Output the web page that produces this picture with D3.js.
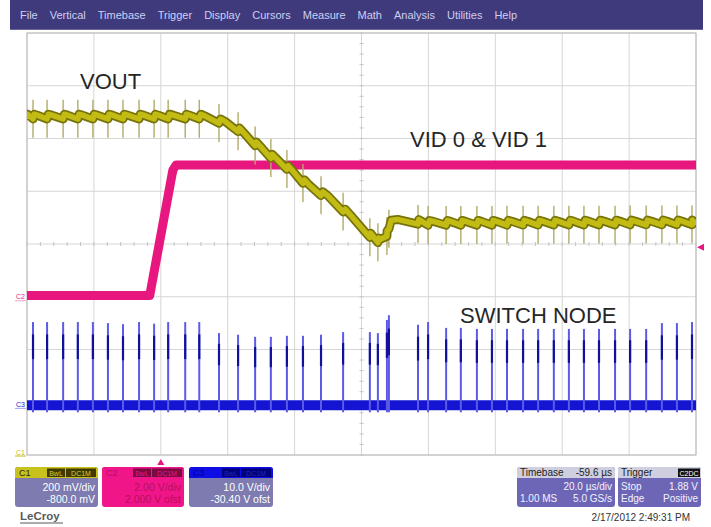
<!DOCTYPE html>
<html>
<head>
<meta charset="utf-8">
<script src="https://cdn.jsdelivr.net/npm/d3@7"></script>
<style>
body { margin: 0; background: #fff; }
svg { display: block; font-family: "Liberation Sans", Arial, sans-serif; }
</style>
</head>
<body>
<svg id="scope" width="711" height="527"></svg>
<script>

var menuItems = ["File", "Vertical", "Timebase", "Trigger", "Display", "Cursors", "Measure", "Math", "Analysis", "Utilities", "Help"];

var timeDomain = [-40, 160];            // us, 20 us/div, trigger 2 div from the left
var channelNames = ["C1", "C2", "C3"];
var voltsPerDiv = [0.2, 2, 10];
var channelOffset = [-0.8, -2, -30.4];
var triggerLevel = 1.88;                // V on C2

// switching events (us) and switch-node peak voltage (V)
var switchTimes = [-38.2, -34.0, -29.2, -24.8, -20.3, -15.8, -11.3, -6.5, -2.0, 2.2, 7.3, 11.5,
	17.4, 23.1, 28.2, 32.9, 37.7, 42.5, 47.9, 54.5, 62.5, 64.9, 67.6, 68.2,
	76.9, 79.9, 85.3, 89.7, 94.5, 99.0, 103.5, 108.3, 112.8, 117.5, 122.0, 126.5,
	131.0, 135.8, 140.3, 145.1, 149.8, 154.3, 158.8];
var switchPeaks = [15.6, 15.6, 15.6, 15.6, 15.6, 15.4, 15.2, 15.6, 15.3, 15.6, 15.6, 15.6,
	13.5, 13.2, 12.8, 12.8, 13.0, 13.0, 13.2, 13.7, 13.7, 13.5, 16.0, 16.9,
	15.1, 15.6, 14.5, 14.5, 14.3, 14.3, 14.3, 14.3, 14.3, 14.3, 14.3, 14.3,
	14.3, 14.3, 14.3, 14.3, 15.4, 15.4, 15.6];
var switchBase = -0.15;                 // V, switch node low level
var switchUndershoot = -1.5;            // V

// VOUT mean level [us, V]
var voutTrend = [[-40, 1.283], [12, 1.283], [16, 1.272], [21.6, 1.251], [31.7, 1.145], [37.7, 1.092],
	[44.6, 1.016], [51.5, 0.967], [58.7, 0.880], [61.6, 0.842], [64.6, 0.815], [67, 0.810],
	[68.5, 0.880], [72.4, 0.893], [79, 0.880], [160, 0.882]];
// ripple between two switching events: [fraction of period, fraction of amplitude]
var rippleShape = [[0, -1], [0.08, 1], [0.3, 0.6], [1, -1]];
var rippleAmp = 0.009;                  // V
var voutGlitch = [0.064, -0.08];        // V above / below the mean at each switching edge

// VID logic level on C2 [us, V]
var vidTrace = [[-40, 0.05], [-3.3, 0.05], [-2.8, 0.4], [3.6, 4.8], [4.6, 5.0], [160, 5.0]];

var labelTexts = ["VOUT", "VID 0 & VID 1", "SWITCH NODE"];
var channelTags = ["BwL", "DC1M"];
var channelRows = [["200 mV/div", "-800.0 mV"], ["2.00 V/div", "2.000 V ofst"], ["10.0 V/div", "-30.40 V ofst"]];
var timebaseRows = [["Timebase", "-59.6 \u00b5s"], ["", "20.0 \u00b5s/div"], ["1.00 MS", "5.0 GS/s"]];
var triggerRows = [["Trigger", ""], ["Stop", "1.88 V"], ["Edge", "Positive"]];
var stampText = "2/17/2012 2:49:31 PM";


// ---- drawing ----
var GRID = {left: 27, right: 696, top: 33, bottom: 455};
var COLORS = {
	c1: "#c2bb14", c1Edge: "#77730a", c1Glitch: "#b0ac6a",
	c2: "#e8177f",
	c3: "#1414d2", c3Spike: "#5b5be6", c3Dark: "#10109a",
	grid: "#d6d6d6", frame: "#b9b9b9",
	menu: "#3e3a7c", menuText: "#cfcff3",
	body: "#7d7bb0", tbBody: "#6d66b6"
};

var svg = d3.select("#scope");

var x = d3.scaleLinear().domain(timeDomain).range([GRID.left, GRID.right]);
var yDiv = d3.scaleLinear().domain([-4, 4]).range([GRID.bottom, GRID.top]);

function chY(ch, v) {
	return yDiv((v + channelOffset[ch]) / voltsPerDiv[ch]);
}

function chLine(ch) {
	return d3.line().x(function(d) { return x(d[0]); }).y(function(d) { return chY(ch, d[1]); });
}

// menu bar
svg.append("rect").attr("x", 10).attr("y", 0).attr("width", 693).attr("height", 30).attr("fill", COLORS.menu);
svg.append("rect").attr("x", 10).attr("y", 29).attr("width", 693).attr("height", 1).attr("fill", "#6a6698");

var menuX = 20;
menuItems.forEach(function(name) {
	var t = svg.append("text").attr("x", menuX).attr("y", 19)
		.attr("font-size", 11).attr("fill", COLORS.menuText).text(name);
	menuX += t.node().getComputedTextLength() + 12;
});

// graticule
var grid = svg.append("g");
grid.selectAll("line.v").data(d3.range(timeDomain[0], timeDomain[1] + 1, 20)).enter().append("line")
	.attr("x1", function(d) { return x(d); }).attr("x2", function(d) { return x(d); })
	.attr("y1", GRID.top).attr("y2", GRID.bottom)
	.attr("stroke", COLORS.grid).attr("stroke-width", 1);
grid.selectAll("line.h").data(d3.range(-4, 5)).enter().append("line")
	.attr("y1", function(d) { return yDiv(d); }).attr("y2", function(d) { return yDiv(d); })
	.attr("x1", GRID.left).attr("x2", GRID.right)
	.attr("stroke", COLORS.grid).attr("stroke-width", 1);
grid.append("rect").attr("x", GRID.left).attr("y", GRID.top)
	.attr("width", GRID.right - GRID.left).attr("height", GRID.bottom - GRID.top)
	.attr("fill", "none").attr("stroke", COLORS.frame);

// minor ticks on the centre axes
var midT = (timeDomain[0] + timeDomain[1]) / 2;
grid.selectAll("line.mx").data(d3.range(timeDomain[0], timeDomain[1] + 0.01, 4)).enter().append("line")
	.attr("x1", function(d) { return x(d); }).attr("x2", function(d) { return x(d); })
	.attr("y1", yDiv(0) - 2).attr("y2", yDiv(0) + 2)
	.attr("stroke", "#c4c4c4");
grid.selectAll("line.my").data(d3.range(-4, 4.01, 0.2)).enter().append("line")
	.attr("y1", function(d) { return yDiv(d); }).attr("y2", function(d) { return yDiv(d); })
	.attr("x1", x(midT) - 2).attr("x2", x(midT) + 2)
	.attr("stroke", "#c4c4c4");

svg.append("clipPath").attr("id", "screen").append("rect")
	.attr("x", GRID.left).attr("y", GRID.top)
	.attr("width", GRID.right - GRID.left).attr("height", GRID.bottom - GRID.top);
var traces = svg.append("g").attr("clip-path", "url(#screen)");

// C3 switch node
traces.append("path")
	.attr("d", chLine(2)([[timeDomain[0], switchBase], [timeDomain[1], switchBase]]))
	.attr("stroke", COLORS.c3).attr("stroke-width", 10).attr("fill", "none");
var spikes = traces.selectAll("g.spike").data(switchTimes).enter().append("g");
spikes.append("line")
	.attr("x1", function(d) { return x(d); }).attr("x2", function(d) { return x(d); })
	.attr("y1", chY(2, switchUndershoot))
	.attr("y2", function(d, i) { return chY(2, switchPeaks[i]); })
	.attr("stroke", COLORS.c3Spike).attr("stroke-width", 2);
spikes.append("line")
	.attr("x1", function(d) { return x(d); }).attr("x2", function(d) { return x(d); })
	.attr("y1", function(d, i) { return chY(2, switchPeaks[i] * 0.55); })
	.attr("y2", function(d, i) { return chY(2, switchPeaks[i] * 0.85); })
	.attr("stroke", COLORS.c3Dark).attr("stroke-width", 2.2);

// C2 VID
traces.append("path")
	.attr("d", chLine(1)(vidTrace))
	.attr("stroke", COLORS.c2).attr("stroke-width", 9).attr("fill", "none")
	.attr("stroke-linejoin", "round");

// C1 VOUT
var trend = d3.scaleLinear().domain(voutTrend.map(function(d) { return d[0]; }))
	.range(voutTrend.map(function(d) { return d[1]; }));
var edges = [timeDomain[0]].concat(switchTimes, [timeDomain[1]]);
var voutPts = [];
for (var k = 0; k < edges.length - 1; k++) {
	var t0 = edges[k], t1 = edges[k + 1];
	rippleShape.forEach(function(p) {
		var t = t0 + p[0] * (t1 - t0);
		voutPts.push([t, trend(t) + p[1] * rippleAmp]);
	});
}
traces.selectAll("line.glitch").data(switchTimes).enter().append("line")
	.attr("x1", function(d) { return x(d); }).attr("x2", function(d) { return x(d); })
	.attr("y1", function(d) { return chY(0, trend(d) + voutGlitch[0]); })
	.attr("y2", function(d) { return chY(0, trend(d) + voutGlitch[1]); })
	.attr("stroke", COLORS.c1Glitch).attr("stroke-width", 1.4);
traces.append("path").attr("d", chLine(0)(voutPts))
	.attr("stroke", COLORS.c1Edge).attr("stroke-width", 9).attr("fill", "none").attr("stroke-linejoin", "round");
traces.append("path").attr("d", chLine(0)(voutPts))
	.attr("stroke", COLORS.c1).attr("stroke-width", 5.5).attr("fill", "none").attr("stroke-linejoin", "round");

// ground markers at the left edge
var markerColors = [COLORS.c1, COLORS.c2, COLORS.c3];
channelNames.forEach(function(name, ch) {
	var gy = Math.min(chY(ch, 0), GRID.bottom - 3);
	svg.append("text").attr("x", 16).attr("y", gy + 2.5).attr("font-size", 7)
		.attr("fill", markerColors[ch]).text(name);
	svg.append("line").attr("x1", 15).attr("x2", 26).attr("y1", gy + 4).attr("y2", gy + 4)
		.attr("stroke", markerColors[ch]).attr("stroke-width", 1).attr("opacity", ch === 0 ? 1 : 0.4);
});

// trigger markers
var tx = x(0), ty = chY(1, triggerLevel);
svg.append("path").attr("d", "M" + (tx - 3.5) + " 465 L" + (tx + 3.5) + " 465 L" + tx + " 459 Z").attr("fill", COLORS.c2);
svg.append("path").attr("d", "M697 " + ty + " L704 " + (ty - 3.5) + " L704 " + (ty + 3.5) + " Z").attr("fill", COLORS.c2);

// annotations
var notes = [[80, 89], [410, 147], [460, 323]];
labelTexts.forEach(function(txt, i) {
	svg.append("text").attr("x", notes[i][0]).attr("y", notes[i][1])
		.attr("font-size", 22).attr("fill", "#262626").text(txt);
});

// descriptor boxes
function box(x0, w, head, body) {
	var g = svg.append("g");
	g.append("rect").attr("x", x0).attr("y", 467).attr("width", w).attr("height", 40).attr("rx", 3).attr("fill", body);
	g.append("rect").attr("x", x0).attr("y", 467).attr("width", w).attr("height", 11).attr("rx", 3).attr("fill", head);
	g.append("rect").attr("x", x0).attr("y", 474).attr("width", w).attr("height", 4).attr("fill", head);
	return g;
}
function txt(g, x0, y0, s, anchor, size, fill) {
	g.append("text").attr("x", x0).attr("y", y0).attr("text-anchor", anchor)
		.attr("font-size", size).attr("fill", fill).text(s);
}

var chBoxes = [
	{x: 15, w: 83, head: "#c9c21c", body: COLORS.body, name: "#2a2a00", tag: "#3e3a00", tagText: "#d8cf3a", text: "#ffffff"},
	{x: 102, w: 82, head: "#f0168a", body: "#f0168a", name: "#b50f62", tag: "#7a0a42", tagText: "#e8168a", text: "#b8105a"},
	{x: 189, w: 84, head: "#0d0de4", body: COLORS.body, name: "#00008a", tag: "#000078", tagText: "#2626b8", text: "#ffffff"}
];
chBoxes.forEach(function(b, i) {
	var g = box(b.x, b.w, b.head, b.body);
	txt(g, b.x + 4, 476, channelNames[i], "start", 9, b.name);
	var tagX = b.x + b.w - 51;
	g.append("rect").attr("x", tagX).attr("y", 468.5).attr("width", 18).attr("height", 8.5).attr("fill", b.tag);
	g.append("rect").attr("x", tagX + 19).attr("y", 468.5).attr("width", 30).attr("height", 8.5).attr("fill", b.tag);
	txt(g, tagX + 9, 475.5, channelTags[0], "middle", 7, b.tagText);
	txt(g, tagX + 34, 475.5, channelTags[1], "middle", 7, b.tagText);
	txt(g, b.x + b.w - 3, 491, channelRows[i][0], "end", 10.5, b.text);
	txt(g, b.x + b.w - 3, 502.5, channelRows[i][1], "end", 10.5, b.text);
});

var tb = box(517, 98, "#cfcfdf", COLORS.tbBody);
var tr = box(618, 83, "#cfcfdf", COLORS.tbBody);
[[tb, 517, 98, timebaseRows], [tr, 618, 83, triggerRows]].forEach(function(d) {
	var g = d[0], x0 = d[1], w = d[2], rows = d[3];
	rows.forEach(function(r, j) {
		var yy = [476, 490, 502][j];
		var col = j === 0 ? "#222" : "#f2f2ff";
		txt(g, x0 + 3, yy, r[0], "start", 10, col);
		txt(g, x0 + w - 3, yy, r[1], "end", 10, col);
	});
});
tr.append("rect").attr("x", 678).attr("y", 468.5).attr("width", 22).attr("height", 8.5).attr("fill", "#111");
txt(tr, 689, 475.5, "C2DC", "middle", 7, "#fff");

// logo and time stamp
svg.append("text").attr("x", 20).attr("y", 520).attr("font-size", 11.5).attr("font-weight", "bold")
	.attr("fill", "#5a5a5a").text("LeCroy");
svg.append("line").attr("x1", 20).attr("x2", 63).attr("y1", 523).attr("y2", 523).attr("stroke", "#5a5a5a");
svg.append("text").attr("x", 690).attr("y", 521).attr("text-anchor", "end").attr("font-size", 10)
	.attr("fill", "#333").text(stampText);

</script>
</body>
</html>
